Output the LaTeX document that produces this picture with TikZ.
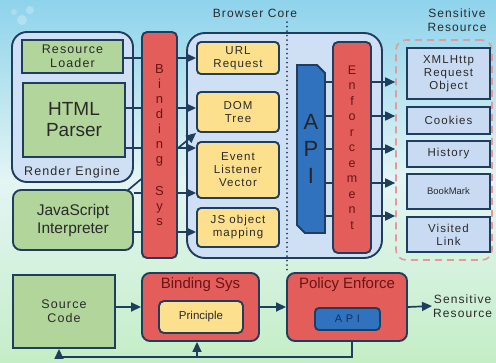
\documentclass[tikz,border=0pt]{standalone}
\usepackage{fontspec}
\setmainfont{Liberation Sans}
\newfontfamily\lsfont[LetterSpace=9]{Liberation Sans}
\usetikzlibrary{arrows.meta,shapes.misc,calc}
\definecolor{navy}{HTML}{1F3E5E}
\definecolor{redf}{HTML}{E35D5B}
\definecolor{greenf}{HTML}{B2D59B}
\definecolor{yellowf}{HTML}{FCE08E}
\definecolor{bluef}{HTML}{3172BF}
\definecolor{paleb}{HTML}{CFE0F4}
\definecolor{resb}{HTML}{C8DBF2}
\definecolor{txt}{HTML}{2A2A2A}
\definecolor{redtxt}{HTML}{6A1414}
\definecolor{pinkd}{HTML}{E39A9A}
\definecolor{skytop}{HTML}{8ED3EC}
\definecolor{skymid}{HTML}{E4F5F4}
\definecolor{grnbot}{HTML}{C4EEC6}
\definecolor{apitxt}{HTML}{12305A}
\tikzset{
  box/.style={draw=navy, line width=1.9pt, inner sep=0pt, align=center, text=txt},
  grn/.style={box, fill=greenf},
  ylw/.style={box, fill=yellowf, rounded corners=4pt, font=\lsfont\fontsize{11.5}{13}\selectfont},
  redb/.style={box, fill=redf, rounded corners=5pt, text=redtxt},
  resbox/.style={box, fill=resb, line width=1.6pt, font=\lsfont\fontsize{11.5}{13}\selectfont},
  cont/.style={box, fill=paleb, line width=1.9pt},
  arr/.style={draw=navy, line width=1.7pt, -{Triangle[length=10pt,width=9pt]}},
  ln/.style={draw=navy, line width=1.7pt},
}
\begin{document}
\begin{tikzpicture}[x=1pt,y=-1pt]
\shade[top color=skytop, bottom color=grnbot, middle color=skymid, shading angle=0] (0,0) rectangle (496,362);
\useasboundingbox (0,0) rectangle (496,362);
\fill[white,opacity=0.25] (22,20) circle (5); \fill[white,opacity=0.25] (30,10) circle (4); \fill[white,opacity=0.2] (14,12) circle (3);
% containers
\node[cont, rounded corners=15pt, minimum width=121pt, minimum height=150pt] (render) at (72.5,107) {};
\node[cont, rounded corners=18pt, minimum width=195pt, minimum height=225pt] (core) at (284.5,145.5) {};
\node[draw=pinkd, dashed, dash pattern=on 7pt off 5pt, line width=1.6pt, rounded corners=10pt, minimum width=96pt, minimum height=220pt] (sens) at (444,150) {};
\draw[navy, line width=1.8pt, line cap=round, dash pattern=on 0.1pt off 4.4pt] (287,22) -- (287,272);
\node[text=txt, font=\lsfont\fontsize{12}{13}\selectfont] (coreLbl) at (255,13) {Browser Core};
\node[text=txt, font=\lsfont\fontsize{12}{14}\selectfont, align=center] (sensLbl) at (457,20) {Sensitive\\Resource};
% render engine
\node[grn, minimum width=101pt, minimum height=33pt, font=\lsfont\fontsize{12.5}{14}\selectfont] (resLoader) at (72.5,56.5) {Resource\\Loader};
\node[grn, minimum width=102pt, minimum height=74pt, font=\fontsize{19}{21}\selectfont] (html) at (74,120) {HTML\\Parser};
\node[text=txt, font=\lsfont\fontsize{12.5}{13}\selectfont] (reLbl) at (72,172) {Render Engine};
\node[grn, rounded corners=8pt, minimum width=120pt, minimum height=60pt, font=\fontsize{15.5}{18}\selectfont] (js) at (73,220) {JavaScript\\Interpreter};
% browser core boxes
\node[ylw, minimum width=82pt, minimum height=32pt] (url) at (238,58) {URL\\Request};
\node[ylw, minimum width=82pt, minimum height=40pt] (dom) at (238,112) {DOM\\Tree};
\node[ylw, minimum width=82pt, minimum height=56pt] (evt) at (238,170) {Event\\Listener\\Vector};
\node[ylw, minimum width=82pt, minimum height=39pt] (jso) at (238,227.5) {JS object\\mapping};
\node[box, fill=bluef, chamfered rectangle, chamfered rectangle corners={north east,south west}, chamfered rectangle xsep=4pt, chamfered rectangle ysep=4pt, minimum width=28pt, minimum height=168pt, font=\fontsize{22}{27}\selectfont, text=black!85] (api) at (311,149) {A\\P\\I};
% sensitive resources
\node[resbox, minimum width=83pt, minimum height=51pt] (xml) at (448.5,73.5) {XMLHttp\\Request\\Object};
\node[resbox, minimum width=83pt, minimum height=27pt] (cook) at (448.5,120.5) {Cookies};
\node[resbox, minimum width=83pt, minimum height=26pt] (hist) at (448.5,154) {History};
\node[resbox, minimum width=83pt, minimum height=35pt, font=\fontsize{9.5}{11}\selectfont] (book) at (448.5,191.5) {BookMark};
\node[resbox, minimum width=83pt, minimum height=35pt] (vis) at (448.5,234.5) {Visited\\Link};
% connectors left (behind binding sys)
\draw[arr] (resLoader.east |- {(0,58)}) -- (url.west |- {(0,58)});
\draw[arr] (html.east |- {(0,108)}) -- (dom.west |- {(0,108)});
\draw[arr] (html.east |- {(0,148)}) -- (evt.west |- {(0,148)});
\draw[arr] ($(js.north east)+(-7,2)$) -- (dom.south west);
\draw[arr] (js.east |- {(0,193)}) -- (evt.west |- {(0,193)});
\draw[arr] (js.east |- {(0,232)}) -- (jso.west |- {(0,232)});
% connectors right (behind enforcement)
\foreach \yy in {82,116,149,183,216}{
  \draw[arr] (api.east |- {(0,\yy)}) -- (sens.west |- {(0,\yy)});
}
\node[redb, minimum width=35pt, minimum height=226pt, font=\fontsize{13}{15}\selectfont] (bind) at (159.5,145) {B\\i\\n\\d\\i\\n\\g\\[17pt]S\\y\\s};
\node[redb, minimum width=38pt, minimum height=211pt, font=\fontsize{12.5}{15.5}\selectfont] (enf) at (352,147.5) {E\\n\\f\\o\\r\\c\\e\\m\\e\\n\\t};
% bottom row
\node[grn, minimum width=102pt, minimum height=73pt, font=\lsfont\fontsize{12.5}{14}\selectfont] (src) at (64,311.5) {Source\\Code};
\node[redb, rounded corners=8pt, minimum width=117pt, minimum height=68pt] (bbox) at (200.5,307) {};
\node[text=redtxt, font=\fontsize{15}{16}\selectfont] (bboxLbl) at (200.5,285) {Binding Sys};
\node[ylw, rounded corners=5pt, minimum width=84pt, minimum height=32pt, font=\fontsize{11.5}{13}\selectfont] (prin) at (201,317) {Principle};
\node[redb, rounded corners=8pt, minimum width=120pt, minimum height=68pt] (pbox) at (347,307) {};
\node[text=redtxt, font=\fontsize{15}{16}\selectfont] (pboxLbl) at (347,285) {Policy Enforce};
\node[box, fill=bluef, rounded corners=4pt, minimum width=65pt, minimum height=22pt, font=\fontsize{11}{12}\selectfont, text=apitxt] (apiS) at (347.5,319) {A\,\,P\,\,I};
\node[text=txt, font=\lsfont\fontsize{12}{14}\selectfont, align=center, anchor=west, inner sep=1pt] (sensB) at (432,306) {Sensitive\\Resource};
\draw[arr] (src.east |- {(0,307)}) -- (bbox.west);
\draw[arr] (bbox.east) -- (pbox.west);
\draw[arr] (pbox.east) -- (sensB.west);
\coordinate (fbR) at (352,357);
\coordinate (fbL) at (59,357);
\coordinate (fbM) at (197,357);
\draw[ln] (pbox.south -| fbR) -- (fbR) -- (fbL);
\draw[arr] (fbL) -- (src.south -| fbL);
\draw[arr] (fbM) -- (bbox.south -| fbM);
\end{tikzpicture}
\end{document}
